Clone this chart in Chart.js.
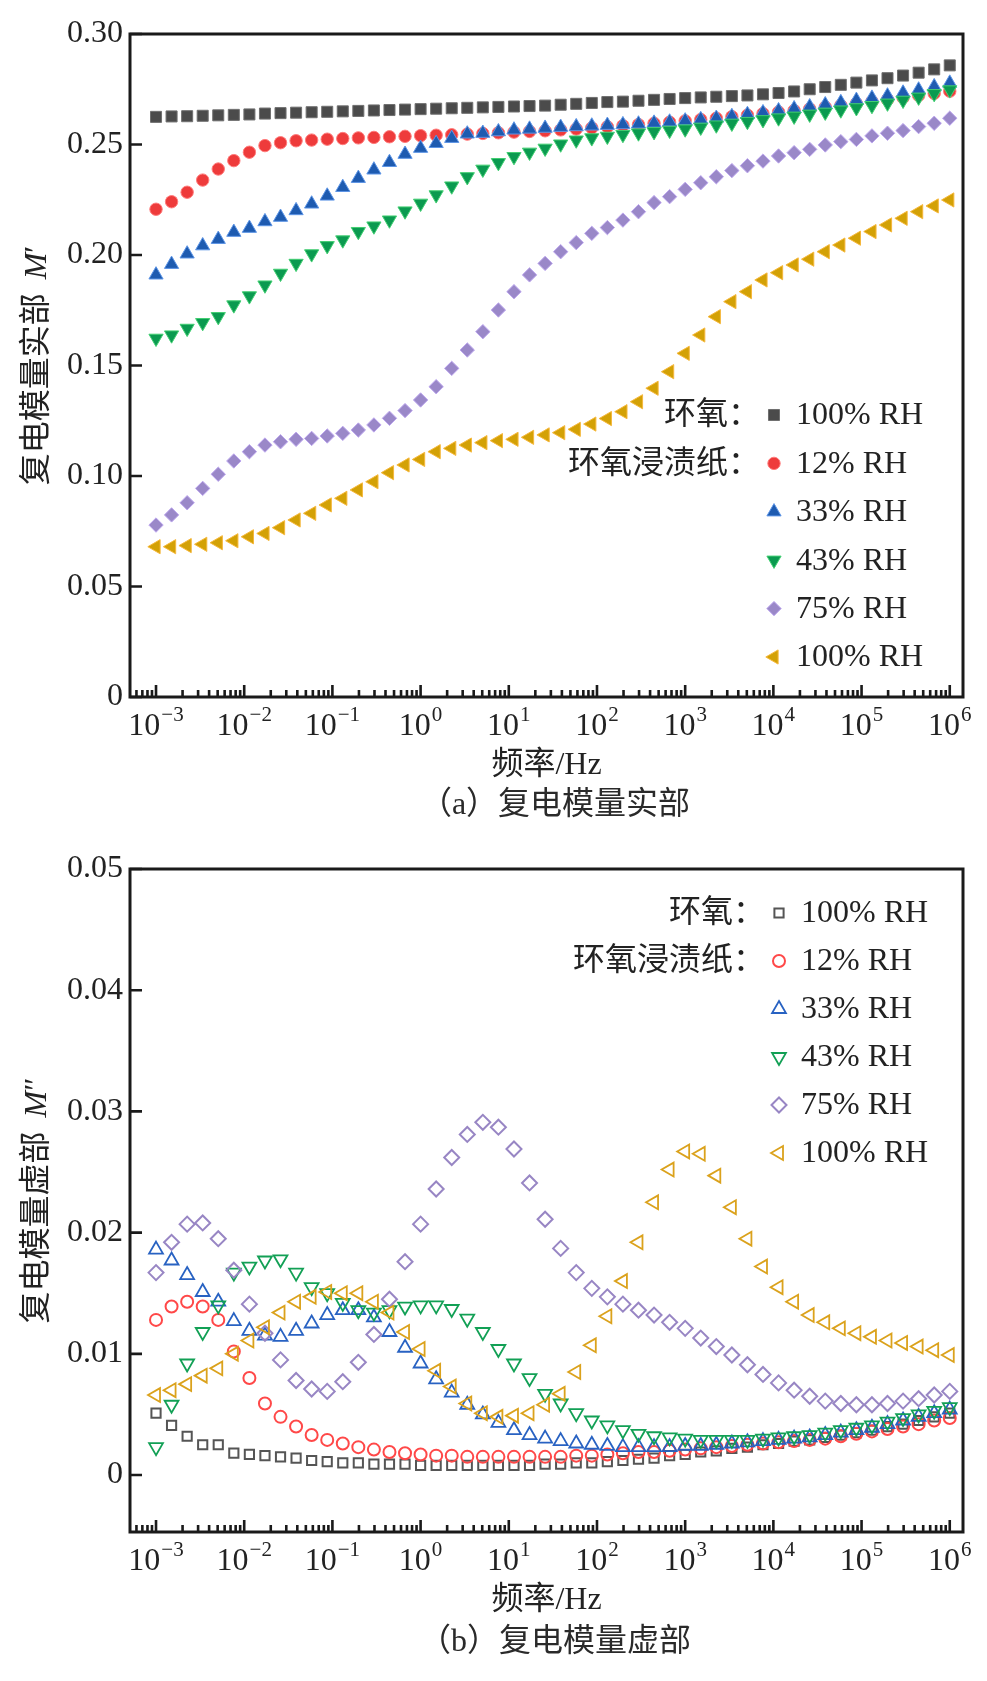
<!DOCTYPE html>
<html><head><meta charset="utf-8">
<script src="https://cdn.jsdelivr.net/npm/chart.js"></script>
<style>
html,body{margin:0;padding:0;background:#fff;}
body{width:987px;height:1681px;position:relative;overflow:hidden;}
.wrap{position:absolute;left:0;width:987px;height:786px;}
.cap{position:absolute;left:555px;transform:translateX(-50%);white-space:nowrap;font-size:32px;font-family:'Liberation Serif','Noto Sans CJK SC',serif;color:#2a2a2a;line-height:40px;}
</style></head><body>
<div class="wrap" style="top:0"><canvas id="chartA" width="987" height="786"></canvas></div>
<div class="wrap" style="top:835px"><canvas id="chartB" width="987" height="786"></canvas></div>
<div class="cap" style="top:783px">（a）复电模量实部</div>
<div class="cap" style="top:1620px">（b）复电模量虚部</div>
<script>
// ---------- data ----------
const freqHz = [0.001,0.001501,0.002254,0.003383,0.005079,0.007625,0.01145,0.01719,0.02581,0.03874,0.05816,0.08733,0.1311,0.1968,0.2955,0.4437,0.6661,
1,1.501,2.254,3.383,5.079,7.625,11.45,17.19,25.81,38.74,58.16,87.33,131.1,196.8,295.5,443.7,666.1,
1000,1501,2254,3383,5079,7625,11450,17190,25810,38740,58160,87330,131100,196800,295500,443700,666100,1000000];

const xTickValues = [1e-3,1e-2,1e-1,1,10,100,1e3,1e4,1e5,1e6];
const xTickBase = '10';
const xTickExponents = ['−3','−2','−1','0','1','2','3','4','5','6'];
const yTickValuesA = [0,0.05,0.10,0.15,0.20,0.25,0.30];
const yTickLabelsA = ['0','0.05','0.10','0.15','0.20','0.25','0.30'];
const yTickValuesB = [0,0.01,0.02,0.03,0.04,0.05];
const yTickLabelsB = ['0','0.01','0.02','0.03','0.04','0.05'];
const xTitle = '频率/Hz';
const yTitleA = ['复电模量实部', 'M', '′'];
const yTitleB = ['复电模量虚部', 'M', '″'];
const seriesLabels = ['100% RH','12% RH','33% RH','43% RH','75% RH','100% RH'];
const legendPrefix = ['环氧：','环氧浸渍纸：','','','',''];

// (a) real part M'
const epoxy100A = [0.2625,0.2627,0.2628,0.2630,0.2632,0.2634,0.2636,0.2640,0.2642,0.2644,
0.2646,0.2648,0.2650,0.2652,0.2654,0.2656,0.2658,0.2660,0.2662,0.2664,
0.2666,0.2668,0.2670,0.2672,0.2674,0.2676,0.2680,0.2684,0.2688,0.2692,
0.2694,0.2698,0.2702,0.2706,0.2710,0.2713,0.2716,0.2719,0.2722,0.2727,
0.2733,0.2740,0.2750,0.2760,0.2770,0.2780,0.2790,0.2800,0.2812,0.2825,
0.2840,0.2858];
const paper12A = [0.2207,0.2241,0.2284,0.2339,0.2389,0.2427,0.2465,0.2495,0.2508,0.2517,0.2520,0.2524,
0.2527,0.2530,0.2532,0.2535,0.2537,0.2540,0.2542,0.2544,0.2547,0.2550,
0.2553,0.2556,0.2559,0.2562,0.2566,0.2570,0.2575,0.2580,0.2585,0.2590,
0.2596,0.2601,0.2607,0.2613,0.2619,0.2626,0.2633,0.2640,0.2647,0.2654,
0.2661,0.2669,0.2677,0.2685,0.2694,0.2703,0.2712,0.2722,0.2731,0.2741];
const paper33A = [0.1910,0.1958,0.2005,0.2042,0.2071,0.2103,0.2121,0.2151,0.2171,0.2201,
0.2231,0.2267,0.2306,0.2347,0.2385,0.2419,0.2456,0.2483,0.2505,0.2528,
0.2548,0.2551,0.2558,0.2566,0.2570,0.2574,0.2578,0.2581,0.2584,0.2587,
0.2590,0.2593,0.2597,0.2602,0.2607,0.2613,0.2619,0.2627,0.2636,0.2644,
0.2653,0.2662,0.2671,0.2680,0.2690,0.2700,0.2710,0.2720,0.2733,0.2747,
0.2762,0.2778];
const paper43A = [0.1623,0.1638,0.1668,0.1694,0.1721,0.1774,0.1815,0.1864,0.1917,0.1962,
0.2005,0.2042,0.2068,0.2106,0.2131,0.2158,0.2199,0.2234,0.2272,0.2312,
0.2354,0.2388,0.2418,0.2445,0.2465,0.2483,0.2502,0.2520,0.2530,0.2537,
0.2545,0.2552,0.2558,0.2564,0.2570,0.2578,0.2588,0.2596,0.2604,0.2612,
0.2620,0.2628,0.2637,0.2646,0.2656,0.2666,0.2676,0.2687,0.2700,0.2714,
0.2730,0.2747];
const paper75A = [0.0778,0.0824,0.0879,0.0944,0.1008,0.1068,0.1110,0.1140,0.1155,0.1166,
0.1170,0.1181,0.1193,0.1208,0.1231,0.1261,0.1296,0.1344,0.1404,0.1487,
0.1570,0.1653,0.1751,0.1834,0.1910,0.1962,0.2015,0.2056,0.2098,0.2124,
0.2158,0.2196,0.2237,0.2264,0.2297,0.2327,0.2354,0.2382,0.2404,0.2425,
0.2448,0.2463,0.2478,0.2498,0.2513,0.2523,0.2539,0.2551,0.2563,0.2581,
0.2596,0.2619];
const paper100A = [0.0680,0.0680,0.0685,0.0691,0.0698,0.0707,0.0725,0.0740,0.0766,0.0801,
0.0831,0.0869,0.0899,0.0937,0.0974,0.1015,0.1050,0.1075,0.1110,0.1125,
0.1140,0.1151,0.1160,0.1166,0.1175,0.1186,0.1196,0.1211,0.1235,0.1260,
0.1291,0.1336,0.1397,0.1472,0.1555,0.1638,0.1721,0.1789,0.1834,0.1887,
0.1920,0.1955,0.1981,0.2015,0.2045,0.2076,0.2106,0.2136,0.2166,0.2196,
0.2222,0.2249];

// (b) imaginary part M''
const epoxy100B = [0.0051,0.0041,0.0032,0.0025,0.0025,0.0018,0.0017,0.0016,0.0015,0.0014,
0.0012,0.0011,0.0010,0.0010,0.0009,0.0009,0.0009,0.0008,0.0008,0.0008,
0.0008,0.0008,0.0008,0.0008,0.0008,0.0009,0.0009,0.0010,0.0010,0.0011,
0.0012,0.0013,0.0014,0.0016,0.0017,0.0019,0.0020,0.0022,0.0023,0.0025,
0.0026,0.0028,0.0029,0.0031,0.0033,0.0035,0.0037,0.0040,0.0042,0.0045,
0.0048,0.0051];
const paper12B = [0.0128,0.0139,0.0143,0.0139,0.0128,0.0102,0.0080,0.0059,0.0048,0.0040,
0.0033,0.0029,0.0026,0.0023,0.0021,0.0019,0.0018,0.0017,0.0016,0.0016,
0.0015,0.0015,0.0015,0.0015,0.0015,0.0015,0.0015,0.0016,0.0016,0.0017,
0.0018,0.0019,0.0019,0.0020,0.0021,0.0022,0.0023,0.0024,0.0025,0.0026,
0.0027,0.0028,0.0029,0.0030,0.0032,0.0034,0.0036,0.0038,0.0040,0.0042,
0.0045,0.0047];
const paper33B = [0.0186,0.0177,0.0165,0.0151,0.0143,0.0127,0.0119,0.0115,0.0114,0.0119,
0.0125,0.0132,0.0136,0.0136,0.0130,0.0118,0.0105,0.0092,0.0079,0.0068,
0.0058,0.0050,0.0043,0.0037,0.0033,0.0030,0.0028,0.0026,0.0025,0.0024,
0.0023,0.0023,0.0023,0.0023,0.0024,0.0024,0.0025,0.0026,0.0027,0.0028,
0.0029,0.0030,0.0031,0.0033,0.0035,0.0037,0.0039,0.0042,0.0045,0.0048,
0.0051,0.0054];
const paper43B = [0.0023,0.0058,0.0092,0.0118,0.0140,0.0167,0.0172,0.0177,0.0178,0.0167,
0.0155,0.0150,0.0142,0.0136,0.0134,0.0136,0.0139,0.0140,0.0140,0.0137,
0.0129,0.0118,0.0104,0.0092,0.0080,0.0067,0.0059,0.0051,0.0045,0.0041,
0.0037,0.0034,0.0032,0.0031,0.0030,0.0029,0.0029,0.0029,0.0029,0.0030,
0.0031,0.0032,0.0033,0.0035,0.0037,0.0039,0.0041,0.0044,0.0047,0.0050,
0.0053,0.0056];
const paper75B = [0.0167,0.0192,0.0207,0.0208,0.0195,0.0169,0.0141,0.0117,0.0095,0.0078,
0.0071,0.0069,0.0077,0.0093,0.0116,0.0145,0.0176,0.0207,0.0236,0.0262,
0.0281,0.0291,0.0287,0.0269,0.0241,0.0211,0.0187,0.0167,0.0154,0.0147,
0.0141,0.0136,0.0132,0.0126,0.0121,0.0113,0.0106,0.0099,0.0091,0.0083,
0.0076,0.0070,0.0065,0.0061,0.0059,0.0058,0.0058,0.0059,0.0061,0.0063,
0.0066,0.0069];
const paper100B = [0.0066,0.0070,0.0075,0.0082,0.0088,0.0100,0.0111,0.0122,0.0134,0.0143,
0.0147,0.0151,0.0150,0.0150,0.0143,0.0134,0.0118,0.0104,0.0086,0.0073,
0.0059,0.0051,0.0048,0.0049,0.0051,0.0058,0.0067,0.0085,0.0107,0.0131,
0.0160,0.0192,0.0225,0.0252,0.0267,0.0265,0.0247,0.0221,0.0195,0.0172,
0.0155,0.0143,0.0132,0.0126,0.0121,0.0117,0.0114,0.0111,0.0109,0.0106,
0.0103,0.0099];

// ---------- styles ----------
const stylesA = [
  {ps:'rect',     rot:0,   r:7.8, bg:'#4b4b4b', bc:'#707070', bw:1},
  {ps:'circle',   rot:0,   r:6.2, bg:'#ee3b3b', bc:'#ff7b7b', bw:1},
  {ps:'triangle', rot:0,   r:8.2, bg:'#1e5bb0', bc:'#5d95e6', bw:1},
  {ps:'triangle', rot:180, r:8.2, bg:'#0b9a50', bc:'#42cf72', bw:1},
  {ps:'rectRot',  rot:0,   r:7.2, bg:'#9a88c8', bc:'#bca6ee', bw:1},
  {ps:'triangle', rot:270, r:8.2, bg:'#d3a106', bc:'#f6b83c', bw:1}
];
const stylesB = [
  {ps:'rect',     rot:0,   r:6.5, bg:'rgba(255,255,255,0)', bc:'#555555', bw:2},
  {ps:'circle',   rot:0,   r:6,   bg:'rgba(255,255,255,0)', bc:'#ff4848', bw:2},
  {ps:'triangle', rot:0,   r:8,   bg:'rgba(255,255,255,0)', bc:'#2862c2', bw:1.8},
  {ps:'triangle', rot:180, r:8,   bg:'rgba(255,255,255,0)', bc:'#12a055', bw:1.8},
  {ps:'rectRot',  rot:0,   r:7.5, bg:'rgba(255,255,255,0)', bc:'#9886c4', bw:2},
  {ps:'triangle', rot:270, r:8,   bg:'rgba(255,255,255,0)', bc:'#dba21c', bw:1.8}
];

const SERIF = "'Liberation Serif','DejaVu Serif',serif";
const FONT = "'Liberation Serif','Noto Sans CJK SC',serif";
Chart.defaults.font.family = FONT;
Chart.defaults.color = '#222';

function drawMarker(ctx, ps, rot, r, x, y) {
  let a = rot * Math.PI / 180;
  ctx.beginPath();
  if (ps === 'circle') ctx.arc(x, y, r, 0, Math.PI * 2);
  else if (ps === 'rect') { const s = r * Math.SQRT1_2; ctx.rect(x - s, y - s, 2 * s, 2 * s); }
  else if (ps === 'rectRot') { ctx.moveTo(x - r, y); ctx.lineTo(x, y - r); ctx.lineTo(x + r, y); ctx.lineTo(x, y + r); }
  else if (ps === 'triangle') {
    ctx.moveTo(x + Math.sin(a) * r, y - Math.cos(a) * r);
    a += 2 * Math.PI / 3; ctx.lineTo(x + Math.sin(a) * r, y - Math.cos(a) * r);
    a += 2 * Math.PI / 3; ctx.lineTo(x + Math.sin(a) * r, y - Math.cos(a) * r);
  }
  ctx.closePath();
  ctx.fill();
  ctx.stroke();
}

// frame, inward ticks, power-of-ten tick labels and y-axis title
const frameTicks = {
  id: 'frameTicks',
  afterDatasetsDraw(chart, args, opts) {
    const {ctx, chartArea: {left, right, top, bottom}, scales: {x, y}} = chart;
    ctx.save();
    ctx.strokeStyle = '#1a1a1a';
    ctx.lineWidth = 2.6;
    ctx.beginPath();
    for (let d = -4; d <= 6; d++) {
      for (let m = 1; m <= 9; m++) {
        const v = m * Math.pow(10, d);
        if (v < x.min || v > x.max) continue;
        const px = x.getPixelForValue(v);
        const len = m === 1 ? 12 : 7;
        ctx.moveTo(px, bottom); ctx.lineTo(px, bottom - len);
      }
    }
    y.ticks.forEach(t => {
      const py = y.getPixelForValue(t.value);
      ctx.moveTo(left, py); ctx.lineTo(left + 12, py);
    });
    ctx.stroke();
    ctx.lineWidth = 3;
    ctx.strokeRect(left, top, right - left, bottom - top);

    // x tick labels: 10 with superscript exponent
    ctx.fillStyle = '#222';
    ctx.textBaseline = 'alphabetic';
    ctx.textAlign = 'left';
    xTickValues.forEach((v, i) => {
      const px = x.getPixelForValue(v);
      ctx.font = '32px ' + SERIF;
      const wb = ctx.measureText(xTickBase).width;
      ctx.font = '21px ' + SERIF;
      const we = ctx.measureText(xTickExponents[i]).width;
      const x0 = px - (wb + 1 + we) / 2;
      ctx.font = '32px ' + SERIF;
      ctx.fillText(xTickBase, x0, bottom + 38);
      ctx.font = '21px ' + SERIF;
      ctx.fillText(xTickExponents[i], x0 + wb + 1, bottom + 24);
    });

    // y axis title with italic M
    const parts = opts.yTitle;
    const cy = (top + bottom) / 2;
    ctx.translate(34, cy);
    ctx.rotate(-Math.PI / 2);
    ctx.font = '32px ' + FONT;
    const w1 = ctx.measureText(parts[0]).width;
    ctx.font = 'italic 32px ' + SERIF;
    const w2 = ctx.measureText(parts[1]).width;
    ctx.font = '32px ' + SERIF;
    const w3 = ctx.measureText(parts[2]).width;
    const gap = 14;
    let tx = -(w1 + gap + w2 + w3) / 2;
    const base = 12;
    ctx.font = '32px ' + FONT;
    ctx.fillText(parts[0], tx, base); tx += w1 + gap;
    ctx.font = 'italic 32px ' + SERIF;
    ctx.fillText(parts[1], tx, base); tx += w2;
    ctx.font = '32px ' + SERIF;
    ctx.fillText(parts[2], tx, base);
    ctx.restore();
  }
};

const insideLegend = {
  id: 'insideLegend',
  afterDatasetsDraw(chart, args, opts) {
    const ctx = chart.ctx;
    ctx.save();
    ctx.font = '32px ' + FONT;
    ctx.textBaseline = 'middle';
    chart.data.datasets.forEach((ds, i) => {
      const y = opts.top + i * opts.step;
      const st = opts.styles[i];
      ctx.fillStyle = st.bg; ctx.strokeStyle = st.bc; ctx.lineWidth = st.bw;
      drawMarker(ctx, st.ps, st.rot, st.r, opts.x, y);
      ctx.fillStyle = '#222';
      ctx.textAlign = 'left';
      ctx.fillText(ds.label, opts.x + 22, y + 1);
      if (legendPrefix[i]) {
        ctx.textAlign = 'right';
        ctx.fillText(legendPrefix[i], opts.x - 14, y + 1);
      }
    });
    ctx.restore();
  }
};

function makeChart(id, series, styles, yMin, yMax, yVals, yLabs, yTitle, legendOpts) {
  const datasets = series.map((ys, k) => ({
    label: seriesLabels[k],
    data: freqHz.map((f, i) => ({x: f, y: ys[i]})),
    showLine: false,
    pointStyle: styles[k].ps,
    pointRotation: styles[k].rot,
    pointRadius: styles[k].r,
    pointHoverRadius: styles[k].r,
    backgroundColor: styles[k].bg,
    borderColor: styles[k].bc,
    pointBackgroundColor: styles[k].bg,
    pointBorderColor: styles[k].bc,
    pointBorderWidth: styles[k].bw,
    borderWidth: styles[k].bw,
    order: 10 - k
  }));
  legendOpts.styles = styles;
  return new Chart(document.getElementById(id), {
    type: 'scatter',
    data: {datasets},
    plugins: [frameTicks, insideLegend],
    options: {
      responsive: false,
      animation: false,
      events: [],
      layout: {padding: {left: 0, top: 34, right: 24, bottom: 0}},
      plugins: {
        legend: {display: false},
        tooltip: {enabled: false},
        insideLegend: legendOpts,
        frameTicks: {yTitle: yTitle}
      },
      scales: {
        x: {
          type: 'logarithmic',
          min: 5.07e-4, max: 1.413e6,
          grid: {display: false, drawTicks: false},
          border: {display: false},
          afterBuildTicks: s => { s.ticks = xTickValues.map(v => ({value: v})); },
          afterFit: s => { s.height = 89; },
          ticks: {display: false, autoSkip: false, maxRotation: 0, minRotation: 0},
          title: {display: true, text: xTitle, font: {size: 32, family: FONT}, color: '#222', padding: {top: 0, bottom: 1}}
        },
        y: {
          type: 'linear',
          min: yMin, max: yMax,
          grid: {display: false, drawTicks: false},
          border: {display: false},
          afterBuildTicks: s => { s.ticks = yVals.map(v => ({value: v})); },
          afterFit: s => { s.width = 130; },
          ticks: {
            autoSkip: false, padding: 7,
            font: {size: 32, family: SERIF}, color: '#222',
            callback: (v, i) => yLabs[i]
          },
          title: {display: false}
        }
      }
    }
  });
}

makeChart('chartA', [epoxy100A, paper12A, paper33A, paper43A, paper75A, paper100A], stylesA,
  0, 0.30, yTickValuesA, yTickLabelsA, yTitleA, {x: 774, top: 415, step: 48.4});
makeChart('chartB', [epoxy100B, paper12B, paper33B, paper43B, paper75B, paper100B], stylesB,
  -0.0047, 0.05, yTickValuesB, yTickLabelsB, yTitleB, {x: 779, top: 78, step: 48});
</script></body></html>
